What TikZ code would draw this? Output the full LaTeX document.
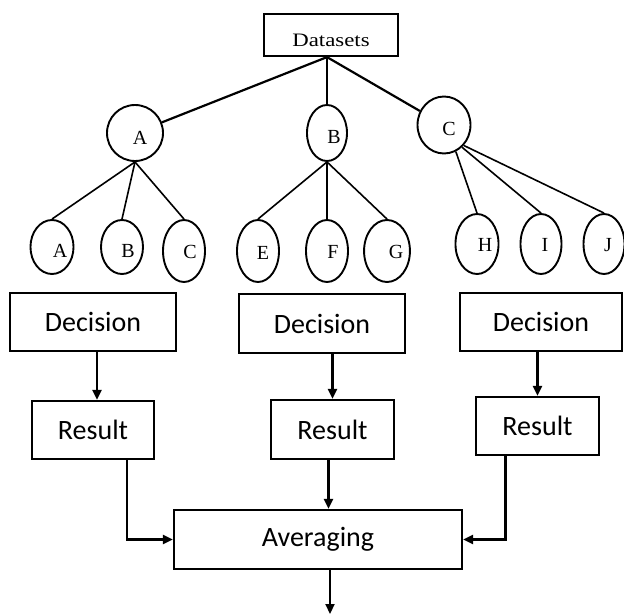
\documentclass[tikz,border=0pt]{standalone}
\usepackage{fontspec}
\setmainfont{Liberation Serif}
\newfontfamily\boxfont{Carlito}
\usetikzlibrary{shapes.geometric,arrows.meta}
\newcommand{\shl}[3]{\hspace*{#1}\hspace*{#1}\raisebox{-#2}[\height][\depth]{#3}}
\begin{document}
\begin{tikzpicture}[x=1pt,y=-1pt,
  ell/.style={ellipse, draw, line width=1.9pt, inner sep=0pt,
    font=\fontsize{20}{24}\selectfont},
  bx/.style={draw, line width=2.2pt, inner sep=0pt,
    font=\boxfont\fontsize{28}{34}\selectfont},
  ln/.style={line width=2.2pt},
  thin/.style={line width=1.6pt},
  arr/.style={line width=2.2pt, -{Triangle[length=10pt,width=9pt]}}]
\useasboundingbox (0,0) rectangle (624,615);
% root
\node[draw, line width=2.2pt, inner sep=0pt, minimum width=134pt, minimum height=42pt,
  font=\fontsize{19}{23}\selectfont] (ds) at (331,35) {\raisebox{-5pt}[\height][\depth]{\scalebox{1.2}[1]{Datasets}}};
% level 1
\node[ell, minimum width=56pt, minimum height=56pt] (pA) at (135,133) {\shl{5pt}{5pt}{A}};
\node[ell, minimum width=40pt, minimum height=56pt] (pB) at (327,133) {\shl{7pt}{4pt}{B}};
\node[ell, minimum width=53pt, minimum height=57pt] (pC) at (444,125) {\shl{5pt}{4pt}{C}};
\coordinate (j) at (ds.south -| pB.north);
\draw[ln] (j) -- (pA);
\draw[ln] (j) -- (pB.north);
\draw[ln] (j) -- (pC);
% level 2
\node[ell, minimum width=40pt, minimum height=54pt] (cA) at (52,247) {\shl{8pt}{4pt}{A}};
\node[ell, minimum width=42pt, minimum height=54pt] (cB) at (122,247) {\shl{6pt}{4pt}{B}};
\node[ell, minimum width=42pt, minimum height=62pt] (cC) at (184,251) {\shl{6pt}{1pt}{C}};
\node[ell, minimum width=42pt, minimum height=62pt] (cE) at (258,251) {\shl{5pt}{2pt}{E}};
\node[ell, minimum width=42pt, minimum height=62pt] (cF) at (327,251) {\shl{6pt}{1pt}{F}};
\node[ell, minimum width=41pt, minimum height=62pt] (cG) at (387,251) {\shl{9pt}{1pt}{G}};
\node[ell, minimum width=40pt, minimum height=60pt] (cH) at (477,244) {\shl{8pt}{1pt}{H}};
\node[ell, minimum width=41pt, minimum height=60pt] (cI) at (541,244) {\shl{4pt}{1pt}{I}};
\node[ell, minimum width=41pt, minimum height=60pt] (cJ) at (604,244) {\shl{4pt}{1pt}{J}};
\draw[thin] (pA.south) -- (cA.north);
\draw[thin] (pA.south) -- (cB.north);
\draw[thin] (pA.south) -- (cC.north);
\draw[thin] (pB.south) -- (cE.north);
\draw[thin] (pB.south) -- (cF.north);
\draw[thin] (pB.south) -- (cG.north);
\draw[thin] (pC.-66) -- (cH.north);
\draw[thin] (pC.-51) -- (cI.north);
\draw[thin] (pC.-46) -- (cJ.north);
% decisions
\node[bx, minimum width=166pt, minimum height=58pt] (d1) at (93,322) {Decision};
\node[bx, minimum width=166pt, minimum height=59pt] (d2) at (322,323.5) {Decision};
\node[bx, minimum width=162pt, minimum height=58pt] (d3) at (541,322) {Decision};
% results
\node[bx, minimum width=122pt, minimum height=58pt] (r1) at (93,430) {Result};
\node[bx, minimum width=123pt, minimum height=59pt] (r2) at (332.5,429.5) {Result};
\node[bx, minimum width=123pt, minimum height=58pt] (r3) at (537.5,426) {Result};
\draw[arr] ([xshift=4pt]d1.south) -- ([xshift=4pt]d1.south |- r1.north);
\draw[arr] (d2.south -| r2.north) -- (r2.north);
\draw[arr] (d3.south -| r3.north) -- (r3.north);
% averaging
\node[bx, minimum width=288pt, minimum height=59pt] (av) at (318,539.5) {Averaging};
\draw[arr] ([xshift=34pt]r1.south) |- (av.west);
\draw[arr] ([xshift=-4pt]r2.south) -- ([xshift=-4pt]r2.south |- av.north);
\draw[arr] ([xshift=-32pt]r3.south) |- (av.east);
\coordinate (out) at ([xshift=12pt]av.south |- 0,614);
\draw[arr] ([xshift=12pt]av.south) -- (out);
\end{tikzpicture}
\end{document}
